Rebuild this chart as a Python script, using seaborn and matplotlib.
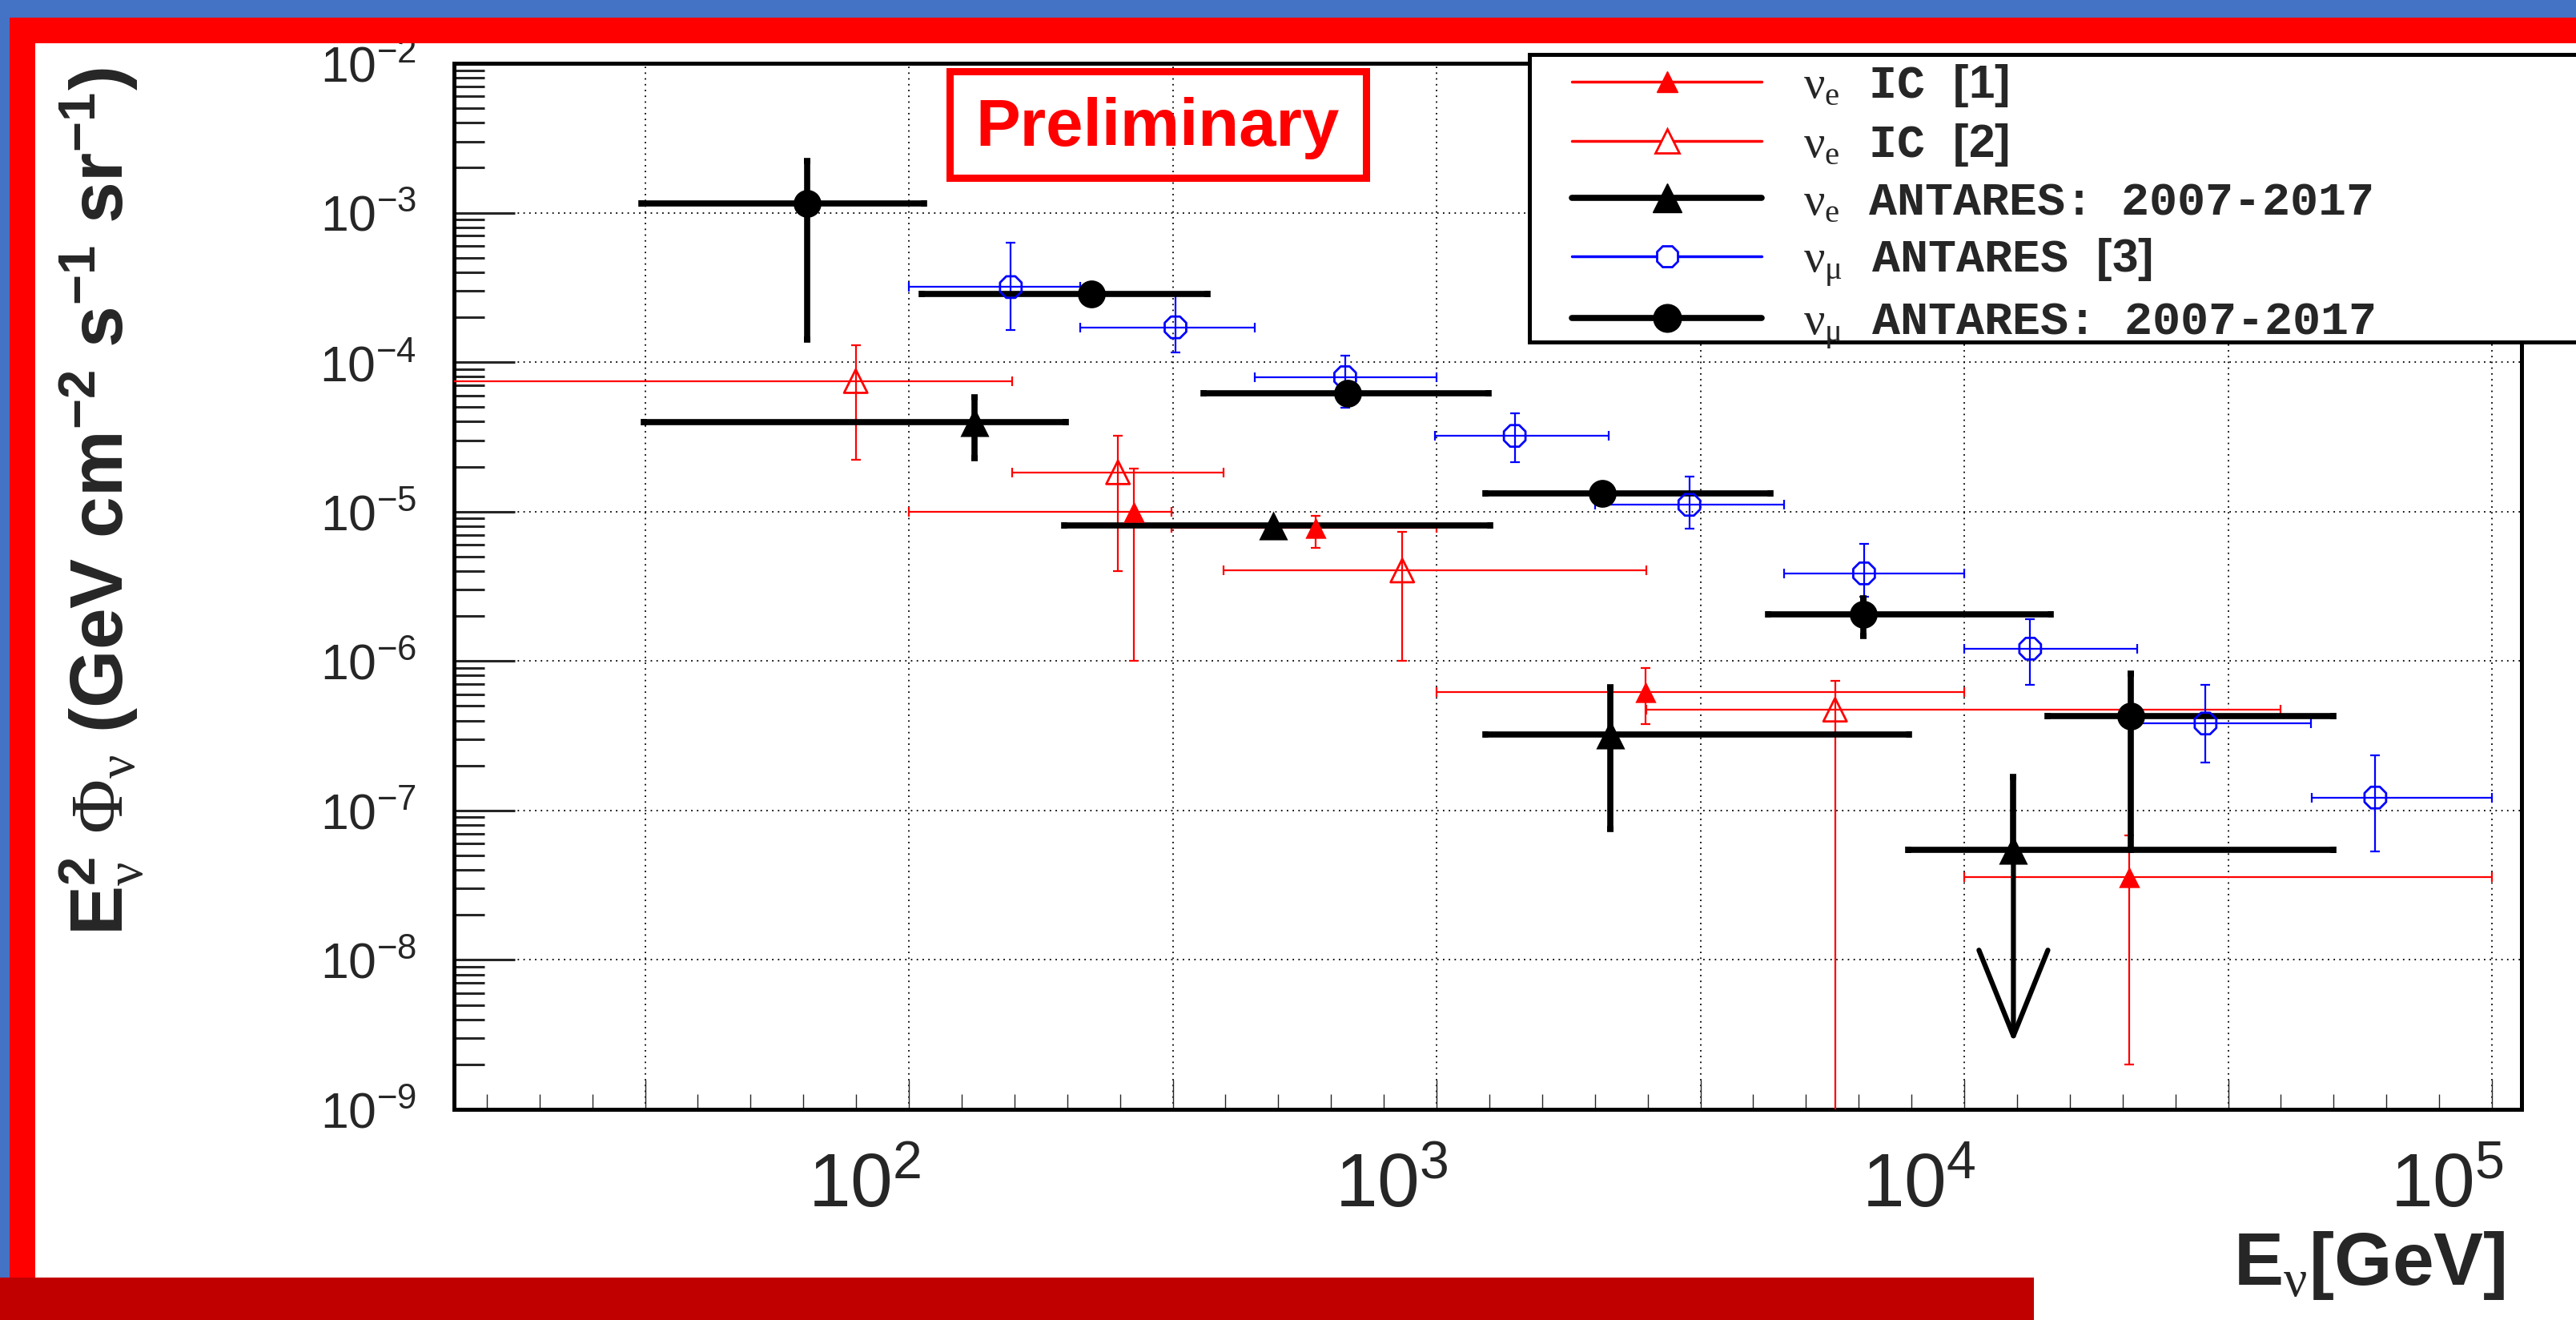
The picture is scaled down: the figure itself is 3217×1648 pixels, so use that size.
#!/usr/bin/env python3
"""ANTARES 2007-2017 diffuse neutrino spectra compared with IceCube and earlier ANTARES.

Slide-style figure: E^2 * flux vs neutrino energy, log-log, with the slide
border decorations drawn around the plot. Writes out.png.
"""
import matplotlib
matplotlib.use("Agg")
import matplotlib.pyplot as plt
import numpy as np
import seaborn as sns
from matplotlib.lines import Line2D
from matplotlib.patches import Rectangle
from matplotlib.ticker import FixedLocator, FuncFormatter, LogLocator, NullFormatter
from matplotlib.transforms import ScaledTranslation

# --- data (energy in GeV, E^2 flux in GeV cm-2 s-1 sr-1)
# nu_e IceCube [1]: red filled triangles
ic1_energy = [267, 589, 2489, 20500]
ic1_e_lo = [100, 314, 1000, 10000]
ic1_e_hi = [314, 998, 10000, 100000]
ic1_flux = [1.0e-5, 7.8e-6, 6.2e-7, 3.6e-8]
ic1_flux_lo = [1.0e-6, 5.75e-6, 3.8e-7, 2.0e-9]
ic1_flux_hi = [1.93e-5, 9.4e-6, 9.0e-7, 6.8e-8]

# nu_e IceCube [2]: red open triangles (last lower bound runs off the axis)
ic2_energy = [79.3, 249, 861, 5690]
ic2_e_lo = [10, 157, 395, 2494]
ic2_e_hi = [157, 395, 2494, 39700]
ic2_flux = [7.46e-5, 1.83e-5, 4.03e-6, 4.72e-7]
ic2_flux_lo = [2.23e-5, 3.99e-6, 1.0e-6, 1.0e-10]
ic2_flux_hi = [1.30e-4, 3.22e-5, 7.3e-6, 7.41e-7]

# nu_e ANTARES 2007-2017: black filled triangles (last one is an upper limit)
ane_energy = [133, 491, 2134, 12390]
ane_e_lo = [31.4, 197, 1238, 7830]
ane_e_hi = [198, 1265, 7850, 50100]
ane_flux = [3.95e-5, 8.1e-6, 3.21e-7, 5.45e-8]
ane_flux_lo = [2.28e-5, 7.6e-6, 7.48e-8, 5.45e-8]
ane_flux_hi = [5.8e-5, 8.6e-6, 6.64e-7, 1.67e-7]
ane_limit = [False, False, False, True]
ane_limit_tip = 2.8e-9

# nu_mu ANTARES [3]: blue open circles
anm3_energy = [156, 320, 671, 1406, 3013, 6457, 13330, 28650, 60100]
anm3_e_lo = [100, 211, 453, 993, 1995, 4550, 10000, 21300, 45500]
anm3_e_hi = [211, 453, 998, 2122, 4548, 10000, 21300, 45400, 100000]
anm3_flux = [3.18e-4, 1.71e-4, 7.93e-5, 3.21e-5, 1.11e-5, 3.86e-6, 1.21e-6, 3.82e-7, 1.22e-7]
anm3_flux_lo = [1.65e-4, 1.16e-4, 4.97e-5, 2.14e-5, 7.7e-6, 2.71e-6, 6.95e-7, 2.1e-7, 5.32e-8]
anm3_flux_hi = [6.28e-4, 2.83e-4, 1.10e-4, 4.53e-5, 1.72e-5, 6.1e-6, 1.9e-6, 6.95e-7, 2.34e-7]

# nu_mu ANTARES 2007-2017: black filled circles
anm_energy = [64.1, 222, 679, 2061, 6440, 20700]
anm_e_lo = [31.1, 105.6, 362, 1236, 4250, 14380]
anm_e_hi = [106.7, 368, 1254, 4295, 14580, 50100]
anm_flux = [1.15e-3, 2.85e-4, 6.18e-5, 1.33e-5, 2.06e-6, 4.28e-7]
anm_flux_lo = [1.41e-4, 2.75e-4, 5.9e-5, 1.27e-5, 1.48e-6, 5.45e-8]
anm_flux_hi = [2.22e-3, 2.95e-4, 6.5e-5, 1.39e-5, 2.64e-6, 8.22e-7]

labels = [
    r"$\mathcal{\nu}_{\mathcal{e}}$ IC $\mathbf{[1]}$",
    r"$\mathcal{\nu}_{\mathcal{e}}$ IC $\mathbf{[2]}$",
    r"$\mathcal{\nu}_{\mathcal{e}}$ ANTARES: 2007-2017",
    r"$\mathcal{\nu}_{\mathcal{\mu}}$ ANTARES $\mathbf{[3]}$",
    r"$\mathcal{\nu}_{\mathcal{\mu}}$ ANTARES: 2007-2017",
]

W, H, DPI = 3217, 1648, 100


def fx(px):
    return px / W


def fy(py):
    return 1 - py / H


def draw_bars(ax, e, e_lo, e_hi, f, f_lo, f_hi, color, lw, cap, capthick):
    e, f = np.asarray(e, float), np.asarray(f, float)
    xerr = [e - np.asarray(e_lo), np.asarray(e_hi) - e]
    yerr = [f - np.asarray(f_lo), np.asarray(f_hi) - f]
    ax.errorbar(e, f, xerr=xerr, yerr=yerr, fmt="none", ecolor=color,
                elinewidth=lw, capsize=cap, capthick=capthick, zorder=3)


def draw_marks(ax, e, f, marker, size, color, filled):
    face = color if filled else "none"
    sns.scatterplot(x=e, y=f, marker=marker, s=size, color=color,
                    facecolor=face, edgecolor=color, linewidth=0 if filled else 2.0,
                    zorder=4, ax=ax, legend=False)


sns.set_theme(style="white")
plt.rcParams.update({
    "font.family": ["Liberation Sans", "DejaVu Sans"],
    "mathtext.fontset": "custom",
    "mathtext.rm": "Liberation Sans",
    "mathtext.sf": "Liberation Sans",
    "mathtext.bf": "Liberation Sans:bold",
    "mathtext.it": "Liberation Sans:italic",
    "mathtext.cal": "Liberation Serif",
    "mathtext.tt": "Liberation Mono:bold",
    "axes.edgecolor": "black",
})

fig = plt.figure(figsize=(W / DPI, H / DPI), dpi=DPI, facecolor="white")
ax = fig.add_axes([fx(567), fy(1385), (3149 - 567) / W, (1385 - 79) / H])

# error bars
draw_bars(ax, ic1_energy, ic1_e_lo, ic1_e_hi, ic1_flux, ic1_flux_lo, ic1_flux_hi,
          "red", 1.6, 4, 1.6)
draw_bars(ax, ic2_energy, ic2_e_lo, ic2_e_hi, ic2_flux, ic2_flux_lo, ic2_flux_hi,
          "red", 1.6, 4, 1.6)
draw_bars(ax, anm3_energy, anm3_e_lo, anm3_e_hi, anm3_flux, anm3_flux_lo, anm3_flux_hi,
          "blue", 1.6, 4, 1.6)
draw_bars(ax, ane_energy, ane_e_lo, ane_e_hi, ane_flux, ane_flux_lo, ane_flux_hi,
          "black", 5.5, 3, 5.5)
draw_bars(ax, anm_energy, anm_e_lo, anm_e_hi, anm_flux, anm_flux_lo, anm_flux_hi,
          "black", 5.5, 3, 5.5)

# markers
draw_marks(ax, ic1_energy, ic1_flux, "^", 19 ** 2, "red", True)
draw_marks(ax, ic2_energy, ic2_flux, "^", 21 ** 2, "red", False)
draw_marks(ax, anm3_energy, anm3_flux, "8", 21 ** 2, "blue", False)
draw_marks(ax, ane_energy, ane_flux, "^", 26 ** 2, "black", True)
draw_marks(ax, anm_energy, anm_flux, "o", 25 ** 2, "black", True)

# upper limit arrow
for e, f, is_lim in zip(ane_energy, ane_flux, ane_limit):
    if is_lim:
        ax.annotate("", xy=(e, ane_limit_tip), xytext=(e, f),
                    arrowprops=dict(arrowstyle="->,head_length=0.77,head_width=0.31",
                                    mutation_scale=100, lw=4.5, color="black",
                                    shrinkA=0, shrinkB=0), zorder=3)

# axes
ax.set_xscale("log")
ax.set_yscale("log")
ax.set_xlim(10 ** 1.138, 10 ** 5.056)
ax.set_ylim(1e-9, 1e-2)

x_major = 10 ** np.arange(1.5, 5.01, 0.5)
x_minor = 10 ** (np.array([k for k in range(12, 51) if k % 5]) / 10)
ax.xaxis.set_major_locator(FixedLocator(x_major))
ax.xaxis.set_minor_locator(FixedLocator(x_minor))


def x_fmt(v, pos):
    p = np.log10(v)
    if abs(p - round(p)) > 1e-6:
        return ""
    return r"$\mathsf{10^{%d}}$" % round(p)


ax.xaxis.set_major_formatter(FuncFormatter(x_fmt))
ax.xaxis.set_minor_formatter(NullFormatter())

ax.yaxis.set_major_locator(FixedLocator(10.0 ** np.arange(-9, -1)))
ax.yaxis.set_minor_locator(LogLocator(base=10, subs=np.arange(2, 10)))
ax.yaxis.set_major_formatter(FuncFormatter(
    lambda v, pos: r"$\mathsf{10^{%d}}$" % round(np.log10(v))))
ax.yaxis.set_minor_formatter(NullFormatter())

ax.tick_params(axis="y", which="major", direction="in", length=55, width=2.2,
               labelsize=45, pad=34, left=True, right=False)
ax.tick_params(axis="y", which="minor", direction="in", length=27, width=2.2,
               left=True, right=False)
ax.tick_params(axis="x", which="major", direction="in", length=27, width=1.0,
               labelsize=68, pad=38, bottom=True, top=False)
ax.tick_params(axis="x", which="minor", direction="in", length=14, width=1.0,
               bottom=True, top=False)

ax.grid(True, which="major", color="black", lw=1.3, ls=(0, (1, 3)))
ax.grid(False, which="minor")
for side in ax.spines.values():
    side.set_linewidth(3.6)
    side.set_color("black")

ax.set_ylabel(r"$\mathbf{E}^{\mathbf{2}}_{\mathcal{\nu}}\ \mathcal{\Phi}_{\mathcal{\nu}}"
              r"\ \mathbf{(GeV\ cm^{-2}\ s^{-1}\ sr^{-1})}$",
              fontsize=67, loc="top")
ax.yaxis.set_label_coords(-0.149, 0.996)
ax.set_xlabel(r"$\mathbf{E}_{\mathcal{\nu}}$[GeV]", fontsize=67,
              fontweight="bold", loc="right")
ax.xaxis.set_label_coords(0.992, -0.115)

# slide decorations
deco = [
    ((0, fy(22)), 1, 22 / H, "#4472C4"),
    ((fx(12), fy(54)), 1, 32 / H, "#FF0000"),
    ((0, fy(1595)), fx(12), (1595 - 22) / H, "#4472C4"),
    ((fx(12), fy(1595)), 32 / W, (1595 - 54) / H, "#FF0000"),
    ((0, 0), fx(2540), (H - 1595) / H, "#C00000"),
]
for xy, w, h, c in deco:
    fig.add_artist(Rectangle(xy, w, h, transform=fig.transFigure,
                             facecolor=c, edgecolor="none", zorder=1))

# "Preliminary" stamp
fig.add_artist(Rectangle((fx(1186), fy(222)), (1706 - 1186) / W, (222 - 89) / H,
                         transform=fig.transFigure, fill=False,
                         edgecolor="red", lw=6.5, zorder=6))
fig.text(fx(1446), fy(160), "Preliminary", ha="center", va="center",
         color="red", fontsize=60, fontweight="bold", family="Liberation Sans",
         zorder=6)

# legend (box drawn separately so it runs past the right edge like the slide)
fig.add_artist(Rectangle((fx(1910), fy(427)), (3400 - 1910) / W, (427 - 68) / H,
                         transform=fig.transFigure, facecolor="white",
                         edgecolor="black", lw=3.6, zorder=4))
handles = [
    Line2D([], [], color="red", lw=2.5, marker="^", ms=19, mfc="red", mec="red"),
    Line2D([], [], color="red", lw=2.5, marker="^", ms=21, mfc="white", mec="red", mew=2),
    Line2D([], [], color="black", lw=5.5, marker="^", ms=26, mfc="black", mec="black"),
    Line2D([], [], color="blue", lw=2.5, marker="8", ms=21, mfc="white", mec="blue", mew=2),
    Line2D([], [], color="black", lw=5.5, marker="o", ms=25, mfc="black", mec="black"),
]
fig.legend(handles, labels, loc="center left", bbox_to_anchor=(fx(1963), fy(258)),
           frameon=False, prop=dict(family="Liberation Mono", weight="bold", size=42),
           handlelength=4.07, handletextpad=0.88, labelspacing=0.27,
           borderpad=0, borderaxespad=0)

# shift x tick labels so the exponent sits on the tick, as in the slide
fig.canvas.draw()
shift = ScaledTranslation(15 / DPI, 0, fig.dpi_scale_trans)
for lab in ax.xaxis.get_majorticklabels():
    lab.set_horizontalalignment("right")
    lab.set_transform(lab.get_transform() + shift)

fig.savefig("out.png", dpi=DPI, facecolor="white")
